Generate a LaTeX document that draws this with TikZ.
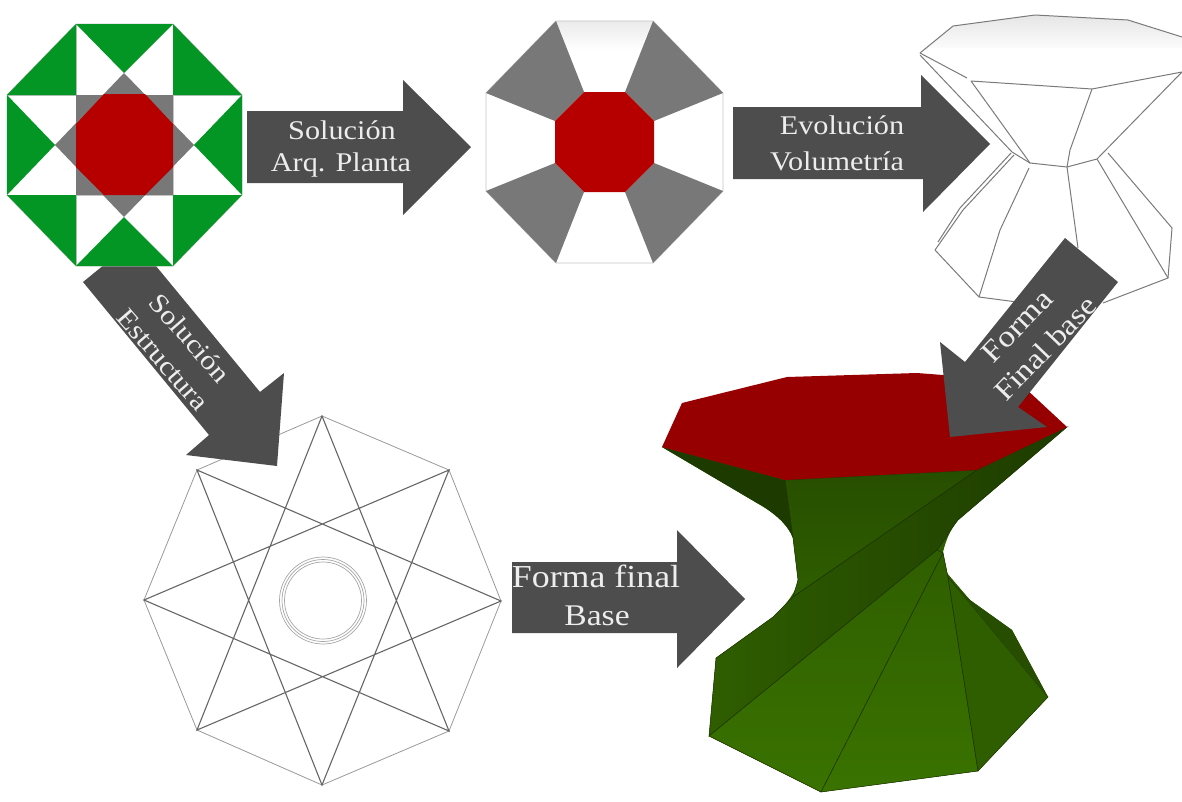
\documentclass[tikz,border=0pt]{standalone}
\usepackage{fontspec}
\setmainfont{Liberation Serif}
\newfontfamily\pal[FakeStretch=1.12]{Liberation Serif}
\definecolor{arrowgray}{HTML}{4D4D4D}
\definecolor{txt}{HTML}{EDEDED}
\definecolor{grn}{HTML}{049624}
\definecolor{redA}{HTML}{B60000}
\definecolor{redB}{HTML}{960000}
\definecolor{gry}{HTML}{787878}
\definecolor{hair}{HTML}{C4C4C4}
\definecolor{wire}{HTML}{7A7A7A}
\definecolor{gA}{HTML}{3A7300}
\definecolor{gB}{HTML}{2F5E00}
\definecolor{gC}{HTML}{274E00}
\definecolor{gD}{HTML}{1D3B00}
\definecolor{edgeg}{HTML}{1C3300}
\tikzset{
  x=1pt,y=-1pt,
  blockarrow/.style={fill=arrowgray,draw=none},
  lbl/.style={text=txt,inner sep=0pt,font=\pal\fontsize{#1}{#1}\selectfont},
  lbl/.default=27,
  greenpart/.style={fill=grn,draw=none},
  hairline/.style={draw=hair,line width=0.9pt},
  faceedge/.style={draw=edgeg,line width=0.5pt},
  wireline/.style={draw=wire,line width=1pt,line join=round},
  starline/.style={draw=black!60,line width=1.1pt},
  thinline/.style={draw=black!40,line width=0.8pt},
  circleline/.style={draw=black!35,line width=0.7pt},
}
\begin{document}
\begin{tikzpicture}
\useasboundingbox (0,0) rectangle (1182,801);
\clip (0,0) rectangle (1182,801);
% structure drawing
\draw[thinline] (322,416)--(449,470)--(501,601)--(449,731)--(322,785)--(197,730)--(144,600)--(197,470)--cycle;
\draw[starline] (322,416)--(449,731)--(144,600)--(449,470)--(322,785)--(197,470)--(501,601)--(197,730)--cycle;
\draw[circleline] (323,600.5) circle (43.5) circle (41) circle (38.5);
% diagonal arrow
\fill[blockarrow] (83,282)--(134.5,240)--(260,392)--(284,373)--(277,466)--(186,455)--(209,435)--cycle;
% octagon 1
\fill[white] (76,24)--(173,24)--(242,95)--(242,195)--(173,266)--(76,266)--(7,195)--(7,95)--cycle;
\draw[hairline] (76,24)--(173,24)--(242,95)--(242,195)--(173,266)--(76,266)--(7,195)--(7,95)--cycle;
\draw[hairline] (76,24)--(76,266) (173,24)--(173,266) (7,95)--(242,95) (7,195)--(242,195);
\fill[greenpart] (76,24)--(173,24)--(124,73)--cycle;
\fill[greenpart] (173,24)--(242,95)--(173,95)--cycle;
\fill[greenpart] (242,95)--(242,195)--(194,145)--cycle;
\fill[greenpart] (242,195)--(173,266)--(173,195)--cycle;
\fill[greenpart] (173,266)--(76,266)--(124,217)--cycle;
\fill[greenpart] (76,266)--(7,195)--(76,195)--cycle;
\fill[greenpart] (7,195)--(7,95)--(55,145)--cycle;
\fill[greenpart] (7,95)--(76,24)--(76,95)--cycle;
\fill[gry] (124,73)--(194,145)--(124,217)--(55,145)--cycle;
\fill[gry] (76,95) rectangle (173,195);
\fill[redA] (104,94)--(145,94)--(173,124)--(173,167)--(145,195)--(104,195)--(76,167)--(76,124)--cycle;
% octagon 2
\shade[top color=black!8,bottom color=white] (556,21)--(653,21)--(640,50)--(568,50)--cycle;
\draw[hairline] (556,21)--(653,21)--(723,93)--(723,191)--(653,263)--(556,263)--(486,191)--(486,93)--cycle;
\fill[gry] (556,21)--(486,93)--(555,121)--(584,92)--cycle;
\fill[gry] (653,21)--(723,93)--(654,121)--(625,92)--cycle;
\fill[gry] (723,191)--(653,263)--(625,192)--(654,163)--cycle;
\fill[gry] (556,263)--(486,191)--(555,163)--(584,192)--cycle;
\fill[redA] (584,92)--(625,92)--(654,121)--(654,163)--(625,192)--(584,192)--(555,163)--(555,121)--cycle;
% volumetry wireframe
\shade[top color=black!10,bottom color=white] (920,53)--(953,26)--(1035,15)--(1128,20)--(1182,37)--(1182,48)--(930,48)--cycle;
\draw[wireline] (1182,37)--(1128,20)--(1035,15)--(953,26)--(920,53)--(967,78);
\draw[wireline] (971,81)--(1092,89)--(1182,72)--(1097,159)--(1067,167)--(1030,163)--cycle;
\draw[wireline] (920,55)--(1012,152)--(1030,163);
\draw[wireline] (1092,89)--(1070,150)--(1067,167);
\draw[wireline] (1011,153)--(960,208)--(938,242) (1014,155)--(963,210)--(935,250);
\draw[wireline] (935,250)--(979,297)--(1017,302);
\draw[wireline] (1029,168)--(1000,230)--(979,297);
\draw[wireline] (1067,167)--(1078,248);
\draw[wireline] (1097,159)--(1168,278);
\draw[wireline] (1108,153)--(1172,228)--(1168,278)--(1103,303);
% final form
\fill[gB] (662,447)--(757,503) .. controls (775,513) and (788,525) .. (793,538)--(798,580) .. controls (797,590) and (788,603) .. (773,617)--(716,658)--(709,736)--(821,792)--(978,771)--(1048,697)--(1012,630)--(970,600)--(947,573)--(943,552) .. controls (946,540) and (950,530) .. (958,520)--(1067,427)--cycle;
\fill[gD] (662,447)--(785,480)--(793,538) .. controls (788,525) and (775,513) .. (757,503)--cycle;
\shade[top color=gC,middle color=gC,bottom color=gB,faceedge] (785,480)--(977,470)--(793,597)--(798,580)--(793,538)--cycle;
\shade[left color=gB,middle color=gB,right color=gD,faceedge] (977,470)--(1067,427)--(958,520) .. controls (950,530) and (945,540) .. (937,550)--(709,736)--(716,658)--(773,617)--(793,597)--cycle;
\shade[top color=gB,middle color=gA,bottom color=gA,faceedge] (709,736)--(821,792)--(943,553)--(937,550)--cycle;
\shade[top color=gB,middle color=gA,bottom color=gA,faceedge] (821,792)--(978,771)--(948,577)--(943,553)--cycle;
\fill[gB,faceedge] (978,771)--(1048,697)--(948,577)--cycle;
\fill[gC] (1048,697)--(1012,630)--(970,600)--(948,577)--cycle;
\fill[redB] (662,447)--(682,403)--(787,377)--(917,373)--(943,375)--(1025,388)--(1067,427)--(977,470)--(785,480)--cycle;
% horizontal arrows
\fill[blockarrow] (247,111)--(403,111)--(403,80)--(471,147)--(403,215)--(403,183)--(247,183)--cycle;
\fill[blockarrow] (733,107)--(921,107)--(921,75)--(990,144)--(923,212)--(923,179)--(733,179)--cycle;
\fill[blockarrow] (512,562)--(677,562)--(677,530)--(745,599)--(677,668)--(677,633)--(512,633)--cycle;
\fill[blockarrow] (1065,238)--(1118,282)--(1018,407)--(1047,427)--(950,437)--(940,342)--(965,362)--cycle;
% labels
\node[lbl] (t1) at (342,130) {Solución};
\node[lbl] (t2) at (341,165) {Arq. Planta};
\node[lbl] (t3) at (842,125) {Evolución};
\node[lbl] (t4) at (837,161) {Volumetría};
\node[lbl=32] (t5) at (596,576) {Forma final};
\node[lbl=30] (t6) at (597,616) {Base};
\node[lbl,rotate=-49] (t7) at (190,338) {Solución};
\node[lbl,rotate=-49] (t8) at (163,360) {Estructura};
\node[lbl=30,rotate=46] (t9) at (1017,326) {Forma};
\node[lbl=29,rotate=46] (t10) at (1045,348) {Final base};
\end{tikzpicture}
\end{document}
